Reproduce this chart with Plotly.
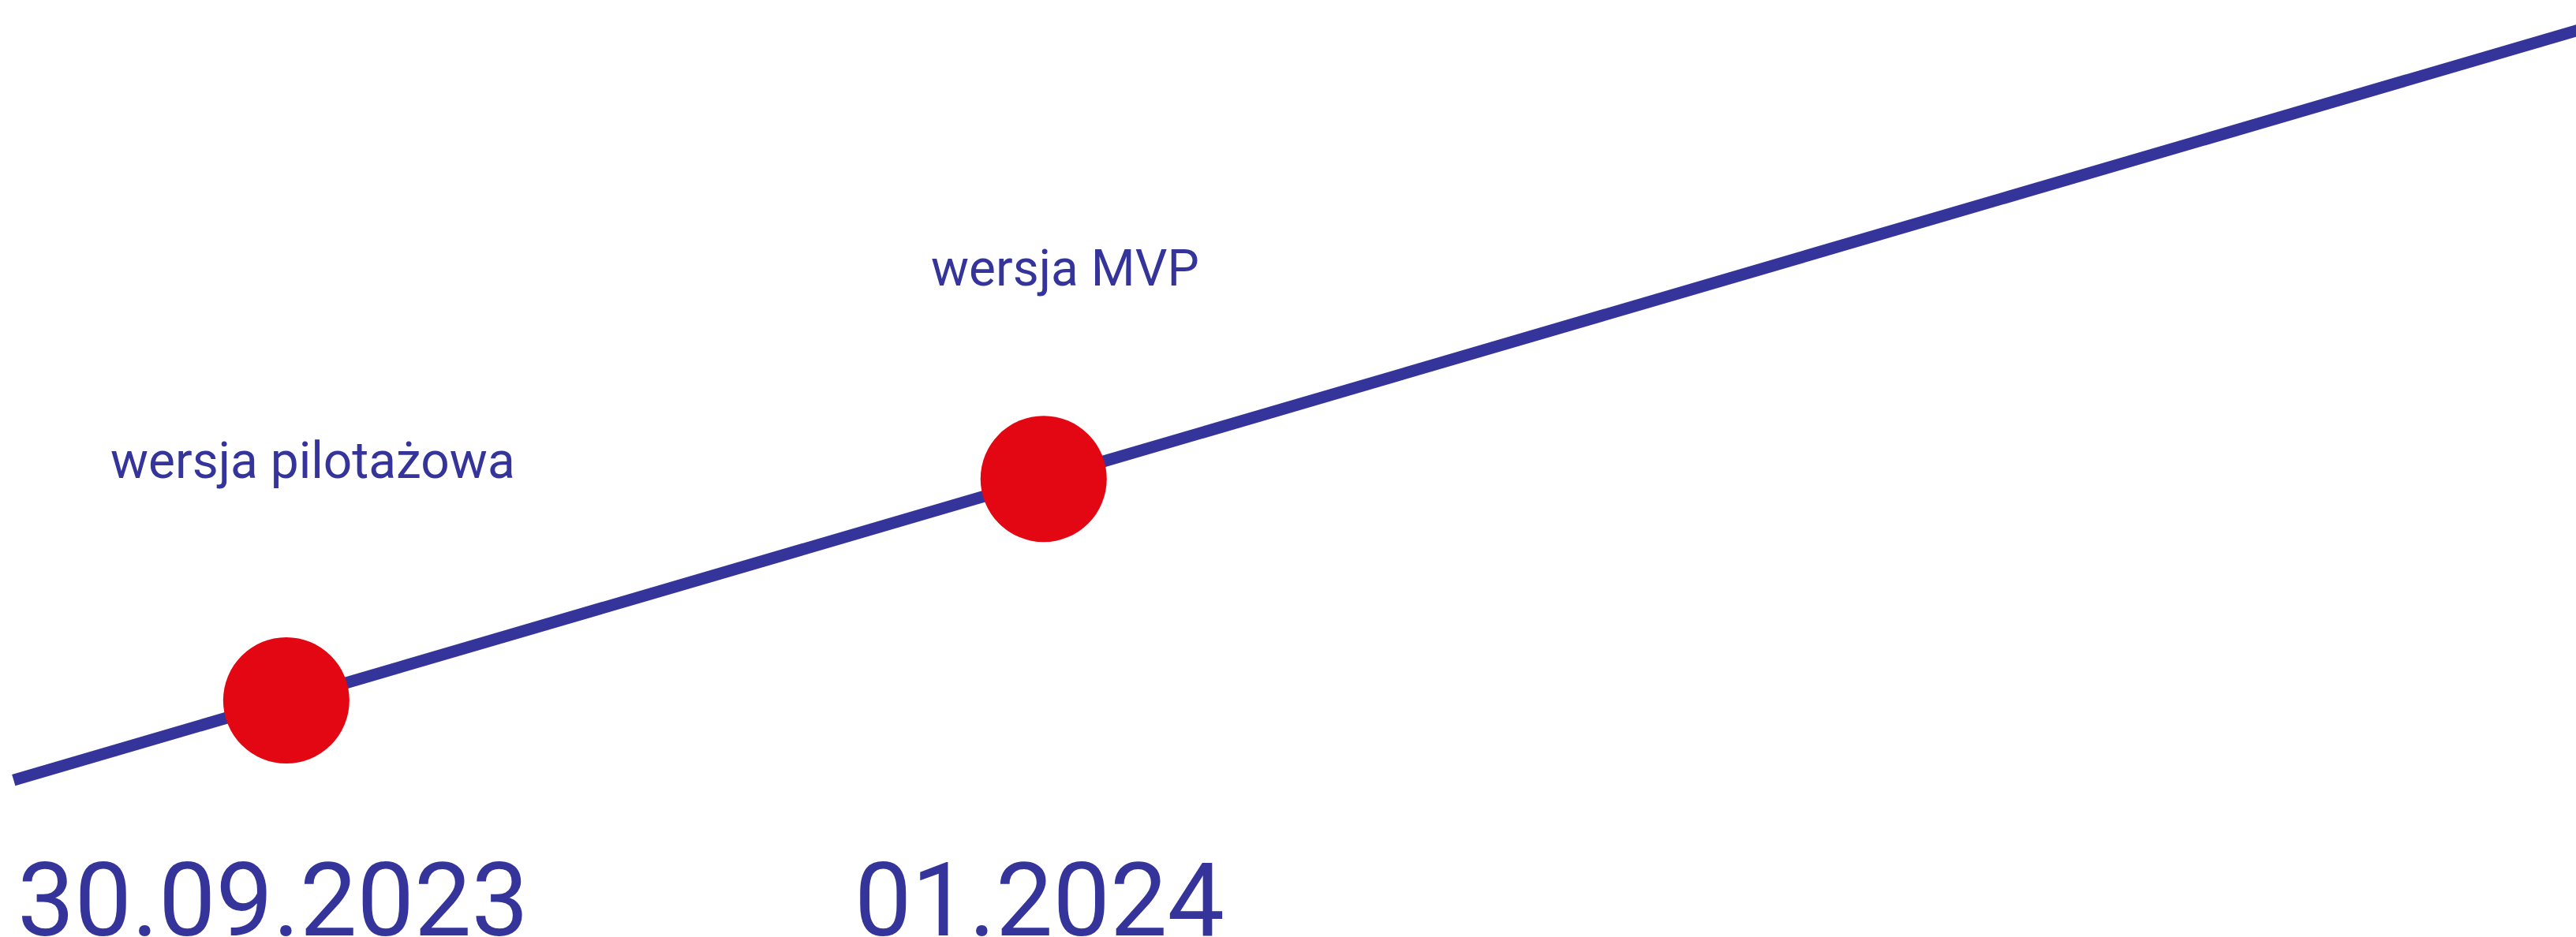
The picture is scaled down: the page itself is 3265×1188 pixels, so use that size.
import plotly.graph_objects as go

# --- data ---
milestones = ["wersja pilotażowa", "wersja MVP"]
dates = ["30.09.2023", "01.2024"]
milestone_month = [0, 3]          # months since 30.09.2023
milestone_progress = [0, 3]       # progress level
trend_month = [-1.08, 9.4]        # trend line extent
trend_progress = [-1.08, 9.4]

BLUE = "#34349a"
RED = "#e30613"
FONT = "Roboto"

fig = go.Figure()
fig.add_trace(go.Scatter(
    x=trend_month, y=trend_progress, mode="lines",
    line=dict(color=BLUE, width=15), hoverinfo="skip", cliponaxis=False,
))
fig.add_trace(go.Scatter(
    x=milestone_month, y=milestone_progress, mode="markers",
    marker=dict(color=RED, size=160, line=dict(width=0)),
    hoverinfo="skip",
))

label_shift = [(34, 304), (27, 267)]
date_shift = [-17, -5]
for i, (m, p) in enumerate(zip(milestone_month, milestone_progress)):
    fig.add_annotation(
        x=m, y=p, text=milestones[i], showarrow=False,
        xanchor="center", yanchor="middle",
        xshift=label_shift[i][0], yshift=label_shift[i][1],
        font=dict(family=FONT, size=64, color=BLUE),
    )
    fig.add_annotation(
        x=m, y=0, yref="paper", text=dates[i], showarrow=False,
        xanchor="center", yanchor="middle",
        xshift=date_shift[i], yshift=47,
        font=dict(family=FONT, size=129, color=BLUE),
    )

fig.update_xaxes(range=[-1.134, 9.07], visible=False, showgrid=False, zeroline=False)
fig.update_yaxes(range=[-3.205, 9.487], visible=False, showgrid=False, zeroline=False)
fig.update_layout(
    width=3265, height=1188, autosize=False,
    margin=dict(l=0, r=0, t=0, b=0, pad=0),
    paper_bgcolor="white", plot_bgcolor="white",
    showlegend=False,
)
fig.write_html(
    "out.html",
    config={"displayModeBar": False},
    post_script="document.body.style.margin='0';document.body.style.overflow='hidden';",
)
